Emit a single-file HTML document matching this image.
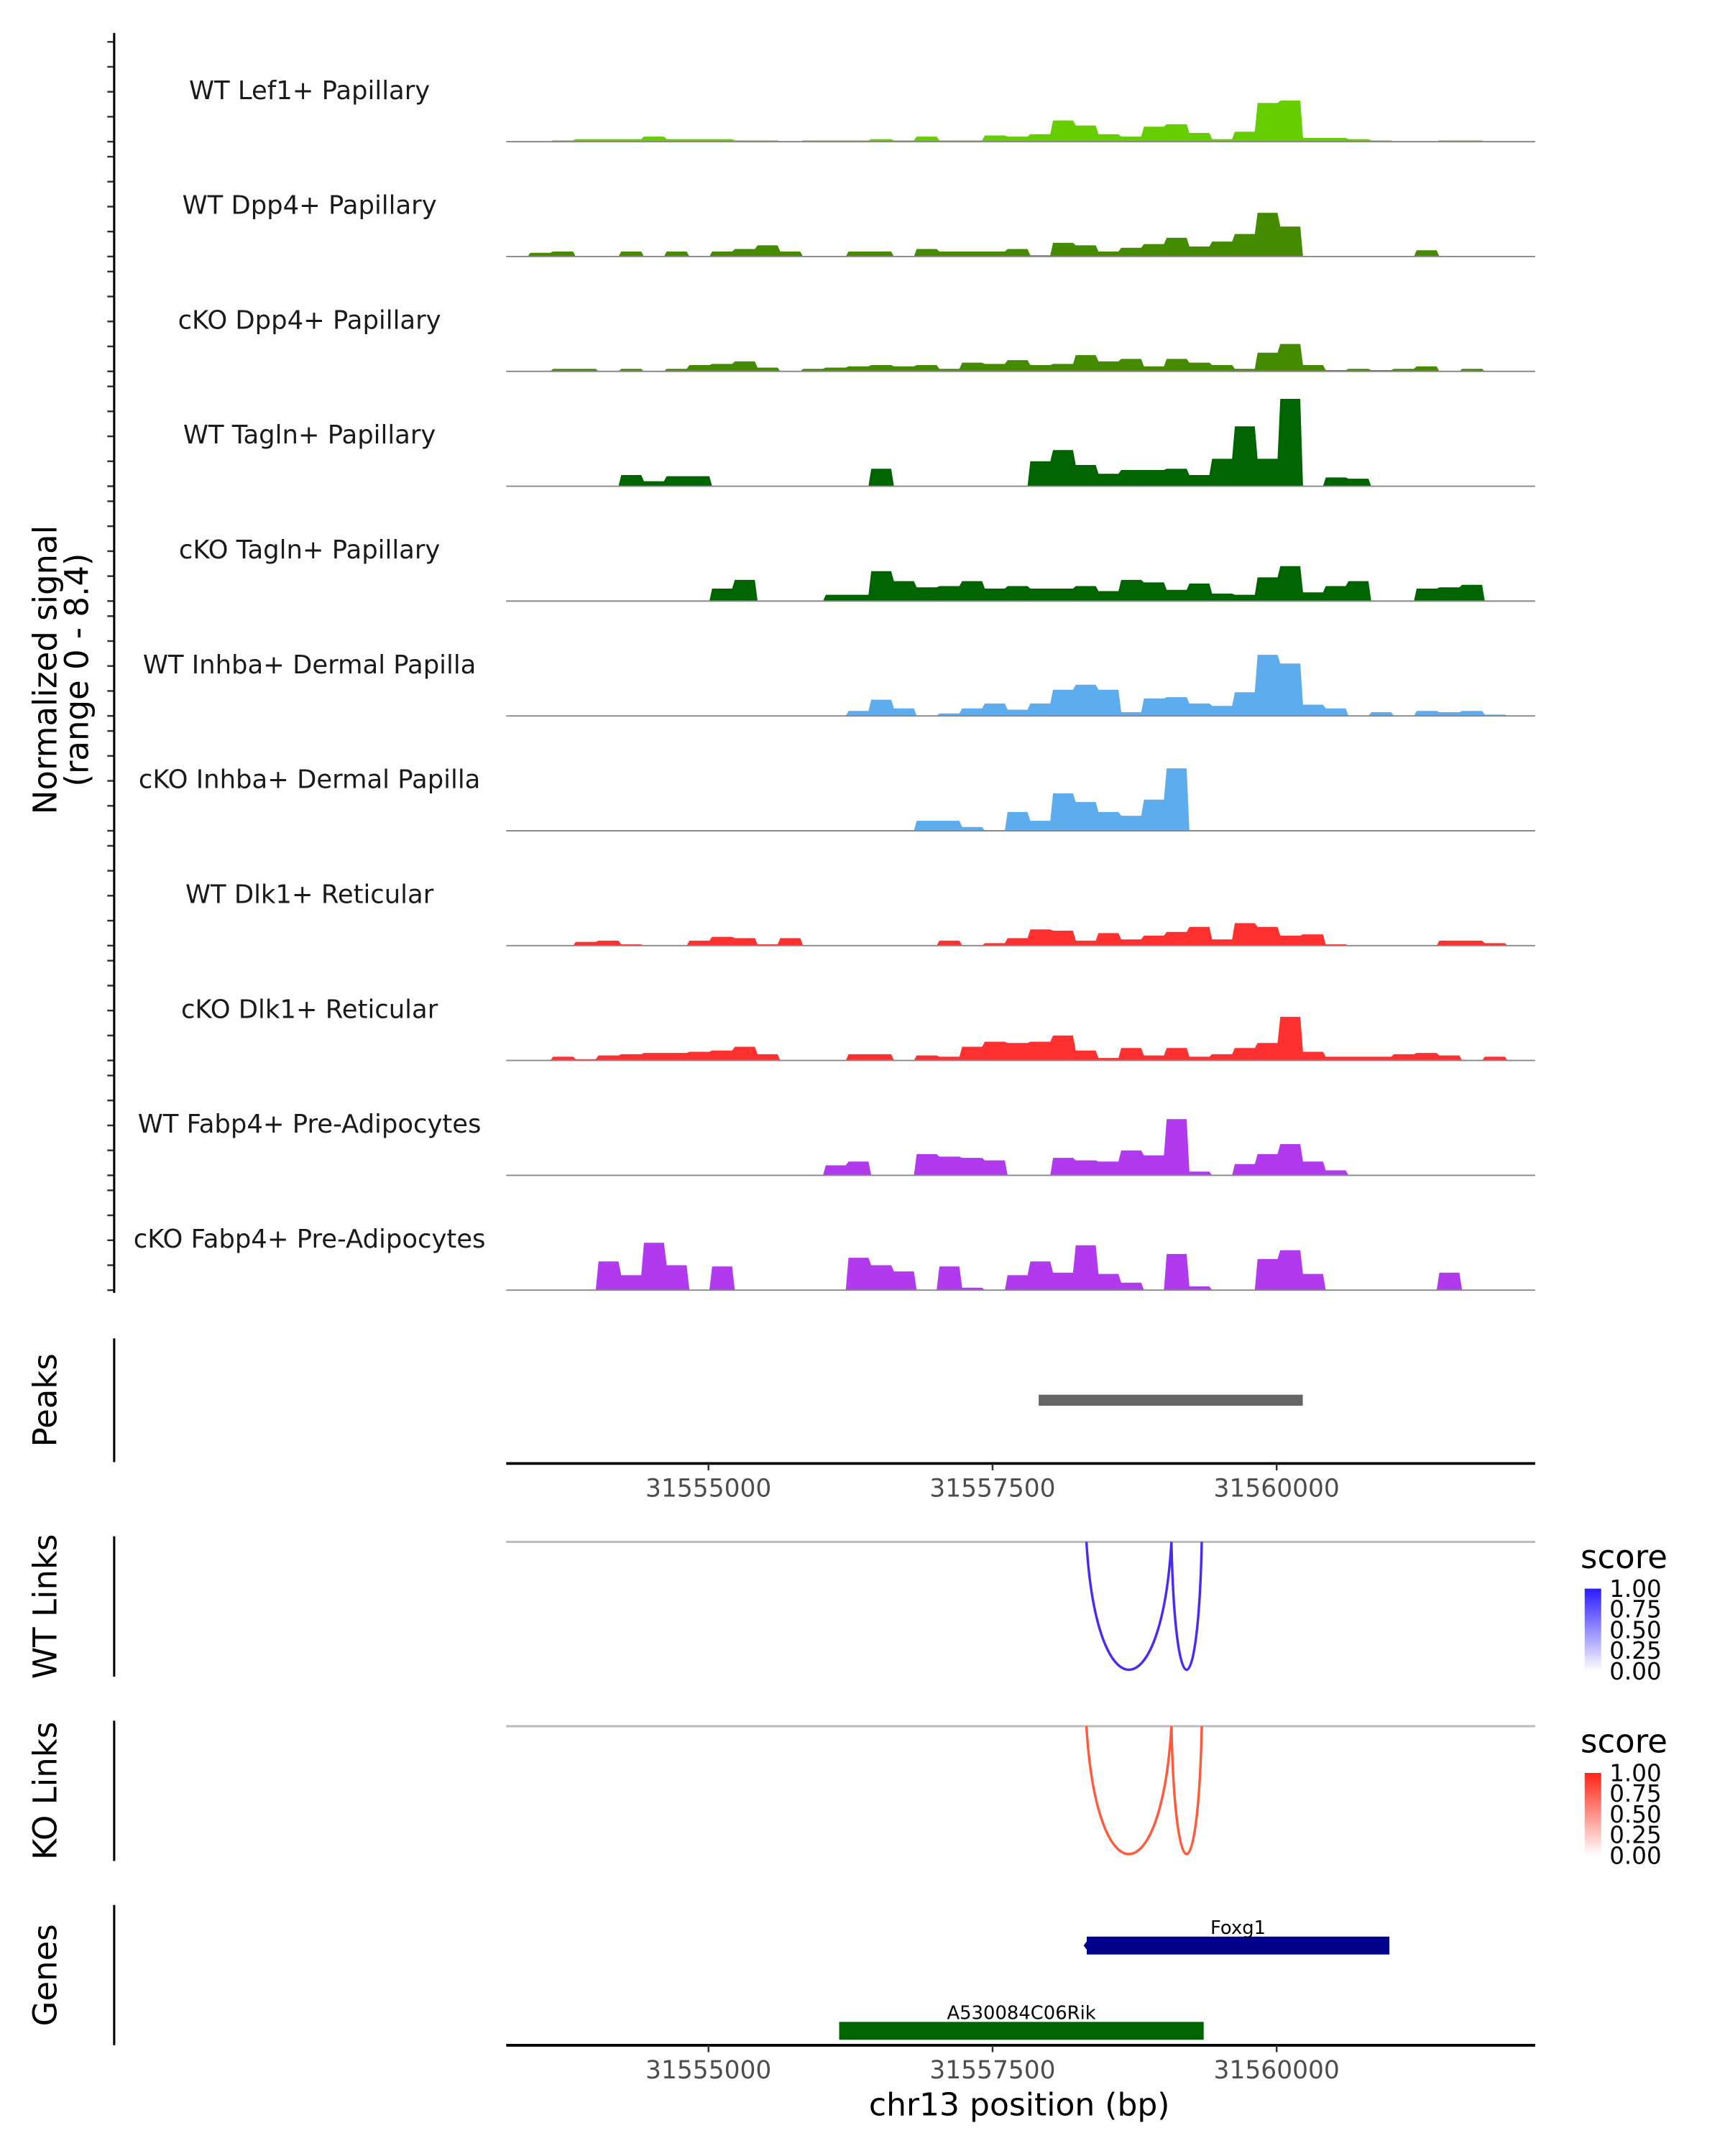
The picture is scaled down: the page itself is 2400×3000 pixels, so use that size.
<!DOCTYPE html>
<html><head><meta charset="utf-8">
<style>
html,body{margin:0;padding:0;background:#fff;}
svg{display:block;font-family:"DejaVu Sans","Liberation Sans",sans-serif;}
</style></head>
<body>
<svg id="chart" xmlns="http://www.w3.org/2000/svg" width="2400" height="3000" viewBox="0 0 1254 1567.5">
<rect x="0" y="0" width="1254" height="1567.5" fill="#fff"/>
<g id="tracks"></g>
<g id="axes"></g>
<g id="links"></g>
<g id="genes"></g>
</svg>
<script>
// ---- data ----
const binStart = 31553220;
const binWidth = 200;
const trackNames = ["WT Lef1+ Papillary","WT Dpp4+ Papillary","cKO Dpp4+ Papillary","WT Tagln+ Papillary","cKO Tagln+ Papillary","WT Inhba+ Dermal Papilla","cKO Inhba+ Dermal Papilla","WT Dlk1+ Reticular","cKO Dlk1+ Reticular","WT Fabp4+ Pre-Adipocytes","cKO Fabp4+ Pre-Adipocytes"];
const trackColors = ["#66CD00","#458B00","#458B00","#006400","#006400","#5CACEE","#5CACEE","#FF3030","#FF3030","#B23AEE","#B23AEE"];
const sigLef1 = [0,0,0.1,0.2,0.2,0.2,0.4,0.2,0.2,0.2,0.1,0.1,0,0.1,0.1,0.1,0.2,0.1,0.4,0.1,0.1,0.5,0.4,0.6,1.7,1.3,0.6,0.4,1.2,1.4,0.7,0.2,0.8,3.1,3.3,0.3,0.3,0.2,0.1,0,0,0.1,0.1,0,0,0];
const sigWtDpp4 = [0,0.3,0.4,0,0,0.4,0,0.4,0,0.4,0.6,0.9,0.4,0,0,0.4,0.4,0,0.6,0.4,0.4,0.4,0.6,0.1,1.1,0.9,0.4,0.7,1.0,1.5,0.8,1.2,1.8,3.5,2.4,0,0,0,0,0,0.5,0,0,0,0,0];
const sigKoDpp4 = [0,0,0.2,0.2,0,0.2,0,0.2,0.5,0.6,0.8,0.3,0,0.2,0.3,0.4,0.5,0.4,0.5,0.2,0.7,0.6,0.9,0.5,0.6,1.3,0.8,1.0,0.4,1.0,0.7,0.5,0.2,1.5,2.2,0.5,0.1,0.2,0.1,0.2,0.4,0,0.2,0,0,0];
const sigWtTagln = [0,0,0,0,0,0.9,0.4,0.8,0.8,0,0,0,0,0,0,0,1.4,0,0,0,0,0,0,2.0,2.9,1.7,1.0,1.3,1.3,1.4,0.9,2.2,4.8,2.2,7.0,0,0.7,0.6,0,0,0,0,0,0,0,0];
const sigKoTagln = [0,0,0,0,0,0,0,0,0,1.0,1.7,0,0,0,0.5,0.5,2.4,1.6,1.1,1.2,1.6,1.0,1.2,1.0,1.0,1.2,0.8,1.7,1.5,0.9,1.4,0.6,0.5,1.9,2.8,0.7,1.2,1.6,0,0,1.0,1.1,1.3,0,0,0];
const sigWtInhba = [0,0,0,0,0,0,0,0,0,0,0,0,0,0,0,0.4,1.3,0.6,0,0.2,0.6,1.0,0.5,1.0,2.1,2.5,2.1,0.3,1.4,1.5,1.0,0.8,1.9,4.9,4.2,0.9,0.6,0,0.3,0,0.4,0.3,0.4,0.1,0,0];
const sigKoInhba = [0,0,0,0,0,0,0,0,0,0,0,0,0,0,0,0,0,0,0.8,0.8,0.3,0,1.5,0.8,3.0,2.3,1.5,1.2,2.5,5.0,0,0,0,0,0,0,0,0,0,0,0,0,0,0,0,0];
const sigWtDlk1 = [0,0,0,0.3,0.4,0.1,0,0,0.4,0.7,0.6,0.1,0.6,0,0,0,0,0,0,0.4,0,0.2,0.6,1.3,1.2,0.4,1.0,0.5,0.8,1.1,1.5,0.5,1.8,1.5,0.8,0.9,0.1,0,0,0,0,0.4,0.4,0.2,0,0];
const sigKoDlk1 = [0,0,0.3,0.1,0.4,0.5,0.6,0.6,0.7,0.8,1.1,0.5,0,0,0,0.5,0.5,0,0.4,0.3,1.1,1.5,1.4,1.5,2.0,0.8,0.2,1.0,0.4,1.0,0.3,0.5,1.0,1.4,3.5,0.7,0.3,0.3,0.3,0.5,0.6,0.4,0,0.3,0,0];
const sigWtFabp4 = [0,0,0,0,0,0,0,0,0,0,0,0,0,0,0.8,1.1,0,0,1.7,1.5,1.4,1.2,0,0,1.4,1.2,1.1,2.0,1.6,4.5,0.3,0,0.9,1.7,2.5,1.1,0.4,0,0,0,0,0,0,0,0,0];
const sigKoFabp4 = [0,0,0,0,2.3,1.2,3.8,2.0,0,1.9,0,0,0,0,0,2.6,2.0,1.5,0,1.9,0.2,0,1.2,2.3,1.4,3.6,1.3,0.6,0,2.9,0.3,0,0,2.5,3.2,1.3,0,0,0,0,0,1.4,0,0,0,0];
const signals = [sigLef1,sigWtDpp4,sigKoDpp4,sigWtTagln,sigKoTagln,sigWtInhba,sigKoInhba,sigWtDlk1,sigKoDlk1,sigWtFabp4,sigKoFabp4];
const xTicks = [31555000,31557500,31560000];
const peakStarts = [31557906];
const peakEnds = [31560230];
const linkStarts = [31558326,31559074];
const linkEnds = [31559074,31559341];
const linkScores = [0.9,0.9];
const geneNames = ["Foxg1","A530084C06Rik"];
const geneStarts = [31558329,31556150];
const geneEnds = [31560992,31559358];
const legendTicks = ["1.00","0.75","0.50","0.25","0.00"];

// ---- scales ----
const X0 = 368, X1 = 1116, P0 = 31553220, P1 = 31562275;
function xs(p){ return X0 + (p - P0) * (X1 - X0) / (P1 - P0); }
const UNIT = 9.07;
const baseY0 = 103, trackGap = 83.5;
function baseY(i){ return baseY0 + i * trackGap; }
const NS = "http://www.w3.org/2000/svg";
function mk(tag, attrs, parent){ const e = document.createElementNS(NS, tag); for (const k in attrs) e.setAttribute(k, attrs[k]); parent.appendChild(e); return e; }
const gT = document.getElementById('tracks');
const gA = document.getElementById('axes');
const gL = document.getElementById('links');
const gG = document.getElementById('genes');

// ---- tracks ----
signals.forEach((vals, i) => {
  const by = baseY(i);
  const lab = mk('text', {x: 225, y: by - 31, 'text-anchor': 'middle', 'font-size': 18.5, fill: '#1a1a1a'}, gT);
  lab.textContent = trackNames[i];
  
  
  let d = 'M' + X0 + ',' + by;
  vals.forEach((v, j) => {
    const xa = xs(binStart + j * binWidth), xb = xs(binStart + (j + 1) * binWidth);
    const y = by - v * UNIT;
    d += ' L' + (xa + 1).toFixed(2) + ',' + y.toFixed(2) + ' L' + Math.min(xb - 1, X1).toFixed(2) + ',' + y.toFixed(2);
  });
  d += ' L' + X1 + ',' + by + ' Z';
  const p = mk('path', {d: d, fill: trackColors[i], stroke: 'none'}, gT);
  
  
  const bl = mk('line', {x1: X0, x2: X1, y1: by, y2: by, stroke: '#888', 'stroke-width': 1}, gT);
  
  
  for (let t = 0; t <= 8; t += 2) {
    const ty = by - t * UNIT;
    const tk = mk('line', {x1: 78, x2: 83, y1: ty, y2: ty, stroke: '#333', 'stroke-width': 1.3}, gA);
    
    
  }
});
const yax = mk('line', {x1: 83, x2: 83, y1: 24, y2: 940, stroke: '#000', 'stroke-width': 1.6}, gA);


const yt = mk('text', {transform: 'translate(41,487) rotate(-90)', 'text-anchor': 'middle', 'font-size': 23.5, fill: '#000'}, gA);


const ts1 = mk('tspan', {x: 0, dy: 0}, yt); ts1.textContent = 'Normalized signal';
const ts2 = mk('tspan', {x: 0, dy: 23}, yt); ts2.textContent = '(range 0 - 8.4)';

// ---- side panel labels ----
function sideLabel(txt, cy, y1, y2, name){
  const t = mk('text', {transform: 'translate(41,' + cy + ') rotate(-90)', 'text-anchor': 'middle', 'font-size': 23.5, fill: '#000'}, gA);
  t.textContent = txt;
  
  
  const l = mk('line', {x1: 83, x2: 83, y1: y1, y2: y2, stroke: '#000', 'stroke-width': 1.6}, gA);
  
  
}
sideLabel('Peaks', 1018, 973, 1063, 'peaks-label');
sideLabel('WT Links', 1168, 1117, 1219, 'wt-links-label');
sideLabel('KO Links', 1302, 1251, 1353, 'ko-links-label');
sideLabel('Genes', 1436, 1385, 1487, 'genes-label');

// ---- peaks ----
peakStarts.forEach((s, i) => {
  const r = mk('rect', {x: xs(s), y: 1014, width: xs(peakEnds[i]) - xs(s), height: 8, fill: '#666'}, gA);
  
  
});

// ---- x axes ----
function xAxis(y, name){
  const l = mk('line', {x1: X0, x2: X1, y1: y, y2: y, stroke: '#000', 'stroke-width': 2}, gA);
  
  
  xTicks.forEach(p => {
    const tk = mk('line', {x1: xs(p), x2: xs(p), y1: y, y2: y + 5, stroke: '#333', 'stroke-width': 1.3}, gA);
    
    
    const tl = mk('text', {x: xs(p), y: y + 24, 'text-anchor': 'middle', 'font-size': 18, fill: '#4d4d4d'}, gA);
    tl.textContent = String(p);
    
    
  });
}
xAxis(1064, 'peaks-x-axis');
xAxis(1487, 'genes-x-axis');
const xt = mk('text', {x: 741, y: 1538, 'text-anchor': 'middle', 'font-size': 23, fill: '#000'}, gA);
xt.textContent = 'chr13 position (bp)';



// ---- links ----
const defs = mk('defs', {}, gL);
function linkPanel(y0, color, gradId, topColor, name){
  const bl = mk('line', {x1: X0, x2: X1, y1: y0, y2: y0, stroke: '#bdbdbd', 'stroke-width': 1.6}, gL);
  
  
  linkStarts.forEach((s, i) => {
    const a = xs(s), b = xs(linkEnds[i]), depth = 93;
    const d = 'M' + a + ',' + y0 + ' C' + (a + (b - a) * 0.12) + ',' + (y0 + depth * 1.333) + ' ' + (b - (b - a) * 0.12) + ',' + (y0 + depth * 1.333) + ' ' + b + ',' + y0;
    const p = mk('path', {d: d, fill: 'none', stroke: color, 'stroke-width': 1.8, 'stroke-opacity': linkScores[i] + 0.1}, gL);
    
    
  });
  const lg = mk('linearGradient', {id: gradId, x1: 0, y1: 0, x2: 0, y2: 1}, defs);
  mk('stop', {offset: '0', 'stop-color': topColor}, lg);
  mk('stop', {offset: '1', 'stop-color': '#ffffff'}, lg);
  const lt = mk('text', {x: 1149, y: y0 + 19, 'font-size': 23.5, fill: '#000'}, gL);
  lt.textContent = 'score';
  
  
  const bar = mk('rect', {x: 1152, y: y0 + 34, width: 12, height: 60, fill: 'url(#' + gradId + ')'}, gL);
  
  
  legendTicks.forEach((t, k) => {
    const ty = y0 + 34 + k * 15;
    const tl = mk('text', {x: 1170, y: ty + 6, 'font-size': 17, fill: '#000'}, gL);
    tl.textContent = t;
    
    
  });
}
linkPanel(1121, '#4A2BF5', 'gradWT', '#2A1AFF', 'wt-links');
linkPanel(1255, '#FF5A3C', 'gradKO', '#FF2414', 'ko-links');

// ---- genes ----
const geneY = [1408, 1470];
const geneCols = ['#00008B', '#006400'];
geneNames.forEach((g, i) => {
  const a = xs(geneStarts[i]), b = xs(geneEnds[i]);
  const r = mk('rect', {x: a, y: geneY[i], width: b - a, height: 13, fill: geneCols[i]}, gG);
  
  
  const t = mk('text', {x: (a + b) / 2, y: geneY[i] - 2, 'text-anchor': 'middle', 'font-size': 13.5, fill: '#000'}, gG);
  t.textContent = g;
  
  
});
const chev = mk('path', {d: 'M' + (xs(geneStarts[0]) + 3) + ',1409 L' + (xs(geneStarts[0]) - 1) + ',1414.5 L' + (xs(geneStarts[0]) + 3) + ',1420', fill: 'none', stroke: '#00008B', 'stroke-width': 2}, gG);


</script>
</body></html>
